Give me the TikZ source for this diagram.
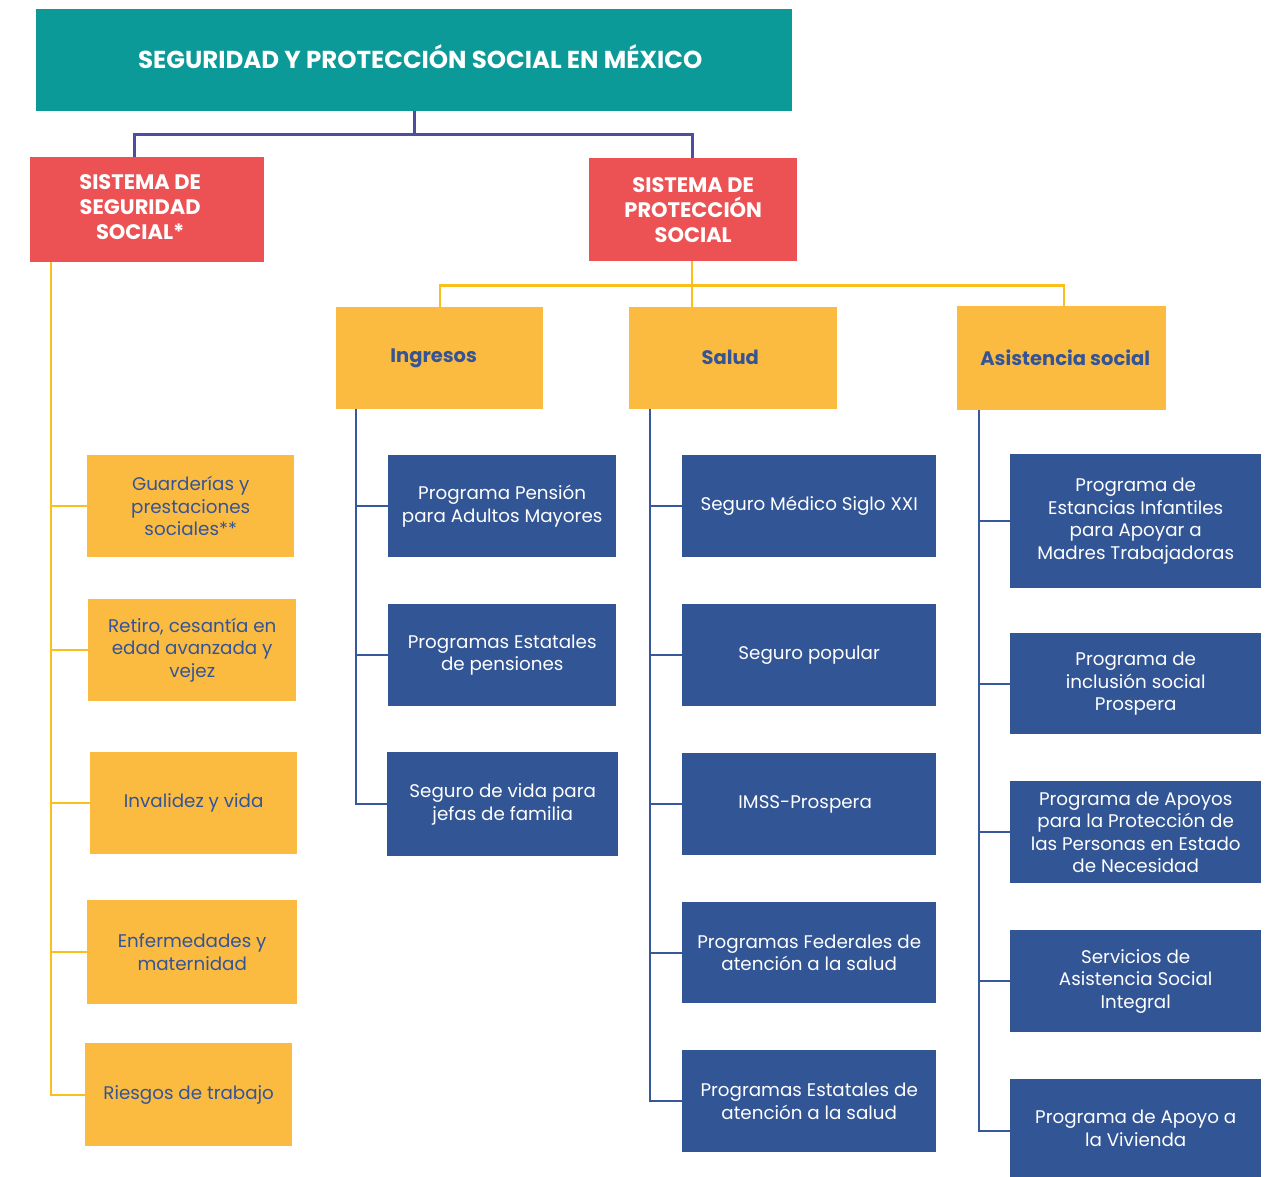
\documentclass[tikz,border=0pt]{standalone}
\usepackage{fontspec}
\setmainfont{Poppins}
\definecolor{teal0}{RGB}{12,154,152}
\definecolor{red0}{RGB}{236,82,84}
\definecolor{yel0}{RGB}{251,187,65}
\definecolor{yline}{RGB}{249,192,28}
\definecolor{blue0}{RGB}{50,85,149}
\definecolor{bline}{RGB}{55,88,155}
\definecolor{tline}{RGB}{78,78,160}
\definecolor{ytext}{RGB}{52,84,150}
\tikzset{
  base/.style={anchor=north west, inner sep=0pt, align=center},
  titlebox/.style={base, fill=teal0, text=white, font=\fontsize{24.5}{28}\selectfont\bfseries},
  redbox/.style={base, fill=red0, text=white, font=\fontsize{21}{25}\selectfont\bfseries},
  catbox/.style={base, fill=yel0, text=ytext, font=\fontsize{19.5}{23}\selectfont\bfseries},
  leftbox/.style={base, fill=yel0, text=ytext, font=\fontsize{18.3}{22.5}\selectfont},
  bluebox/.style={base, fill=blue0, text=white, font=\fontsize{18.3}{22.5}\selectfont},
  tconn/.style={draw=tline, line width=3pt},
  yconn/.style={draw=yline, line width=2.3pt},
  bconn/.style={draw=bline, line width=2pt},
}
\begin{document}
\begin{tikzpicture}[x=1pt,y=-1pt]
\useasboundingbox (0,0) rectangle (1274,1177);
\fill[white] (0,0) rectangle (1274,1177);

% top
\node[titlebox, minimum width=756pt, minimum height=102pt] (title) at (36,9) {\hspace*{12pt}\raisebox{7pt}{SEGURIDAD Y PROTECCIÓN SOCIAL EN MÉXICO}};
\node[redbox, minimum width=234pt, minimum height=105pt] (red1) at (30,157) {\hspace*{-14pt}\raisebox{-2pt}{\begin{tabular}{@{}c@{}}SISTEMA DE\\SEGURIDAD\\SOCIAL*\end{tabular}}};
\node[redbox, minimum width=208pt, minimum height=103pt] (red2) at (589,158) {SISTEMA DE\\PROTECCIÓN\\SOCIAL};

% categories
\node[catbox, minimum width=207pt, minimum height=102pt] (cat1) at (336,307) {\hspace*{-12pt}Ingresos};
\node[catbox, minimum width=208pt, minimum height=102pt] (cat2) at (629,307) {\hspace*{-6pt}\raisebox{2pt}{Salud}};
\node[catbox, minimum width=209pt, minimum height=104pt] (cat3) at (957,306) {\hspace*{7pt}\raisebox{1pt}{Asistencia social}};

% left column
\node[leftbox, minimum width=207pt, minimum height=102pt] (L1) at (87,455) {Guarderías y\\prestaciones\\sociales**};
\node[leftbox, minimum width=208pt, minimum height=102pt] (L2) at (88,599) {Retiro, cesantía en\\edad avanzada y\\vejez};
\node[leftbox, minimum width=207pt, minimum height=102pt] (L3) at (90,752) {Invalidez y vida};
\node[leftbox, minimum width=210pt, minimum height=104pt] (L4) at (87,900) {Enfermedades y\\maternidad};
\node[leftbox, minimum width=207pt, minimum height=103pt] (L5) at (85,1043) {Riesgos de trabajo};

% ingresos
\node[bluebox, minimum width=228pt, minimum height=102pt] (I1) at (388,455) {Programa Pensión\\para Adultos Mayores};
\node[bluebox, minimum width=228pt, minimum height=102pt] (I2) at (388,604) {Programas Estatales\\de pensiones};
\node[bluebox, minimum width=231pt, minimum height=104pt] (I3) at (387,752) {Seguro de vida para\\jefas de familia};

% salud
\node[bluebox, minimum width=254pt, minimum height=102pt] (S1) at (682,455) {Seguro Médico Siglo XXI};
\node[bluebox, minimum width=254pt, minimum height=102pt] (S2) at (682,604) {Seguro popular};
\node[bluebox, minimum width=254pt, minimum height=102pt] (S3) at (682,753) {\hspace*{-8pt}IMSS-Prospera};
\node[bluebox, minimum width=254pt, minimum height=101pt] (S4) at (682,902) {Programas Federales de\\atención a la salud};
\node[bluebox, minimum width=254pt, minimum height=102pt] (S5) at (682,1050) {Programas Estatales de\\atención a la salud};

% asistencia
\node[bluebox, minimum width=251pt, minimum height=134pt] (A1) at (1010,454) {Programa de\\Estancias Infantiles\\para Apoyar a\\Madres Trabajadoras};
\node[bluebox, minimum width=251pt, minimum height=101pt] (A2) at (1010,633) {Programa de\\inclusión social\\Prospera};
\node[bluebox, minimum width=251pt, minimum height=102pt] (A3) at (1010,781) {Programa de Apoyos\\para la Protección de\\las Personas en Estado\\de Necesidad};
\node[bluebox, minimum width=251pt, minimum height=102pt] (A4) at (1010,930) {Servicios de\\Asistencia Social\\Integral};
\node[bluebox, minimum width=251pt, minimum height=98pt] (A5) at (1010,1079) {Programa de Apoyo a\\la Vivienda};

% connectors top
\draw[tconn] (title.south) -- ++(0,23) coordinate (j1);
\draw[tconn] (j1) -| ([xshift=104pt]red1.north west);
\draw[tconn] (j1) -| ([xshift=103pt]red2.north west);

% left spine
\coordinate (sp1) at ([xshift=21pt]red1.south west);
\draw[yconn] (sp1) |- (L5.west);
\foreach \n in {L1,L2,L3,L4} \draw[yconn] (\n.west) -- (\n.west -| sp1);

% red2 to categories
\coordinate (r2) at ([xshift=103pt]red2.south west);
\draw[yconn] (r2) -- (r2 |- cat2.north);
\coordinate (j2) at ([yshift=-24pt]r2);
\draw[yconn] (j2) -| (cat1.north);
\draw[yconn] (j2) -| ([xshift=107pt]cat3.north west);

% ingresos spine
\coordinate (sp2) at ([xshift=20pt]cat1.south west);
\draw[bconn] (sp2) |- (I3.west);
\foreach \n in {I1,I2} \draw[bconn] (\n.west) -- (\n.west -| sp2);

% salud spine
\coordinate (sp3) at ([xshift=21pt]cat2.south west);
\draw[bconn] (sp3) |- (S5.west);
\foreach \n in {S1,S2,S3,S4} \draw[bconn] (\n.west) -- (\n.west -| sp3);

% asistencia spine
\coordinate (sp4) at ([xshift=22pt]cat3.south west);
\draw[bconn] (sp4) |- ([yshift=-3pt]A5.west);
\foreach \n in {A1,A2,A3,A4} \draw[bconn] (\n.west) -- (\n.west -| sp4);
\end{tikzpicture}
\end{document}
